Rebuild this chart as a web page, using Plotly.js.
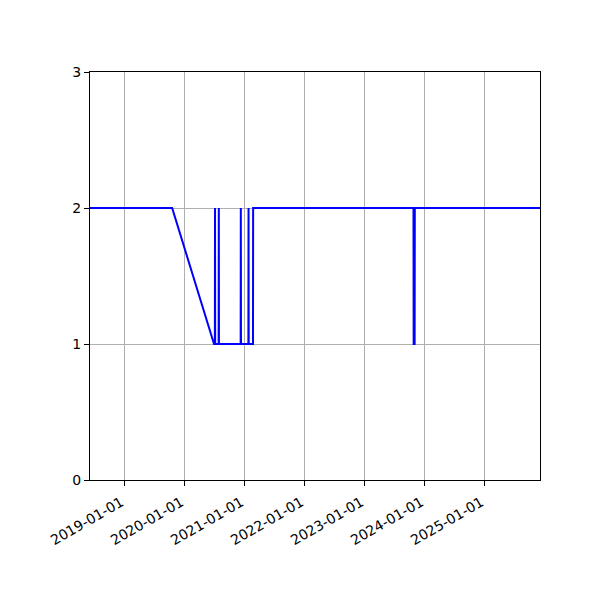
<!DOCTYPE html>
<html>
<head>
<meta charset="utf-8">
<script src="https://cdn.plot.ly/plotly-3.0.1.min.js"></script>
<style>html,body{margin:0;padding:0;background:#fff;}#chart{width:600px;height:600px;}</style>
</head>
<body>
<div id="chart"></div>
<script>
const dates = [
  '2018-06-07', '2019-10-20', '2020-07-01', '2020-07-06', '2020-07-07', '2020-07-08',
  '2020-07-29', '2020-07-30', '2020-07-31', '2020-12-10', '2020-12-11', '2020-12-12',
  '2021-01-26', '2021-01-27', '2021-01-28', '2021-02-23', '2021-02-24', '2023-10-28',
  '2023-10-29', '2023-11-04', '2023-11-05', '2025-12-06'
];
const values = [
  2, 2, 1, 1, 2, 1,
  1, 2, 1, 1, 2, 1,
  1, 2, 1, 1, 2, 2,
  1, 1, 2, 2
];
const yTicks = [0, 1, 2, 3];
const xRange = ['2018-06-07', '2025-12-06'];

const trace = {
  x: dates,
  y: values,
  type: 'scatter',
  mode: 'lines',
  line: {color: '#0000ff', width: 2},
  hoverinfo: 'skip'
};

const axisCommon = {
  showline: true,
  linecolor: '#000',
  linewidth: 1,
  mirror: true,
  ticks: 'outside',
  ticklen: 5,
  tickwidth: 1,
  tickcolor: '#000',
  showgrid: true,
  gridcolor: '#b0b0b0',
  gridwidth: 1,
  zeroline: false,
  tickfont: {family: 'DejaVu Sans', size: 14, color: '#000'}
};

const layout = {
  width: 600,
  height: 600,
  margin: {l: 90, r: 60, t: 72, b: 120},
  paper_bgcolor: '#fff',
  plot_bgcolor: '#fff',
  showlegend: false,
  xaxis: Object.assign({}, axisCommon, {
    type: 'date',
    range: xRange,
    tick0: '2019-01-01',
    dtick: 'M12',
    tickformat: '%Y-%m-%d',
    tickangle: -30,
    ticklabelstandoff: 3,
    ticklabelshift: -3
  }),
  yaxis: Object.assign({}, axisCommon, {
    range: [0, 3],
    tickvals: yTicks,
    ticktext: yTicks.map(String)
  }),
  font: {family: 'DejaVu Sans', color: '#000'}
};

Plotly.newPlot('chart', [trace], layout, {displayModeBar: false, staticPlot: true});
</script>
</body>
</html>
